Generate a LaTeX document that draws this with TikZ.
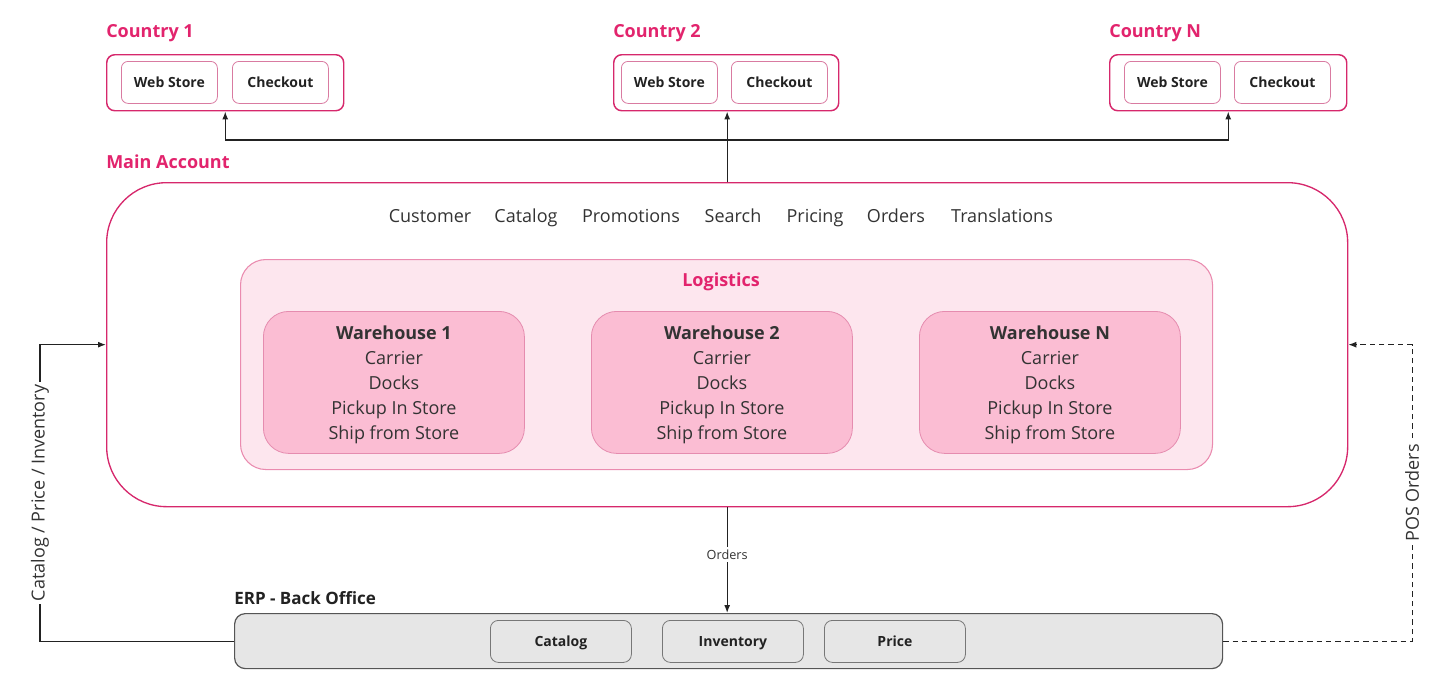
\documentclass[tikz,border=0pt]{standalone}
\usepackage{fontspec}
\setmainfont{Open Sans}
\usetikzlibrary{arrows.meta, positioning}
\usepackage{xcolor}
\definecolor{ink}     {HTML}{222222}
\definecolor{inkgray} {HTML}{333333}
\definecolor{magenta} {HTML}{E2246D}
\definecolor{magline} {HTML}{D6286C}
\definecolor{magsoft} {HTML}{D97BA1}
\definecolor{logfill} {HTML}{FDE6EE}
\definecolor{logline} {HTML}{EA8BAF}
\definecolor{whfill}  {HTML}{FBBDD3}
\definecolor{whline}  {HTML}{E58CAF}
\definecolor{erpfill} {HTML}{E6E6E6}
\definecolor{erpline} {HTML}{555555}
\tikzset{
  head/.style    = {font=\fontsize{13.5}{16}\selectfont\bfseries, text=magenta,
                    anchor=base west, inner sep=0pt},
  country/.style = {draw=magline, line width=1.1pt, rounded corners=6pt,
                    minimum height=42pt, anchor=north west, inner sep=0pt},
  app/.style     = {draw=magsoft, line width=0.6pt, rounded corners=5pt,
                    minimum width=72pt, minimum height=31.5pt,
                    text height=0.72em, text depth=0pt,
                    anchor=north west, inner sep=0pt,
                    font=\fontsize{10.5}{12}\selectfont\bfseries, text=ink},
  area/.style    = {draw=magline, line width=1pt, rounded corners=45pt,
                    minimum width=930.75pt, minimum height=243pt,
                    anchor=north west, inner sep=0pt},
  item/.style    = {font=\fontsize{13.5}{16}\selectfont, text=inkgray,
                    anchor=base},
  logis/.style   = {draw=logline, fill=logfill, line width=0.8pt,
                    rounded corners=19pt, minimum width=729pt,
                    minimum height=157.5pt, anchor=north west, inner sep=0pt},
  whouse/.style  = {draw=whline, fill=whfill, line width=0.6pt,
                    rounded corners=19pt, minimum width=195.75pt,
                    minimum height=106.5pt, anchor=north west, inner sep=0pt},
  whtext/.style  = {font=\fontsize{13.5}{18.75}\selectfont, text=inkgray,
                    align=center},
  erp/.style     = {draw=erpline, fill=erpfill, line width=0.9pt,
                    rounded corners=8pt, minimum width=741pt,
                    minimum height=41.25pt, anchor=north west, inner sep=0pt},
  module/.style  = {draw=erpline!80, fill=erpfill, line width=0.6pt,
                    rounded corners=6pt, minimum width=105.75pt,
                    minimum height=31.5pt, text height=0.72em, text depth=0pt,
                    anchor=north west, inner sep=0pt,
                    font=\fontsize{10.5}{12}\selectfont\bfseries, text=ink},
  arr/.style     = {-{Latex[length=6pt,width=4.5pt]}, line width=0.9pt, ink},
  darr/.style    = {arr, dash pattern=on 4pt off 3pt},
  lbl/.style     = {font=\fontsize{13.5}{16}\selectfont, text=inkgray,
                    fill=white, inner sep=2pt},
}

\begin{document}
\begin{tikzpicture}[x=0.75pt, y=-0.75pt]
  \useasboundingbox (0,0) rectangle (1441,693);

  % countries
  \node[head] (lc1) at (106,37) {Country 1};
  \node[country, minimum width=177.75pt] (c1) at (106,54) {};
  \node[app] (ws1) at (121,61) {Web Store};
  \node[app] (co1) at (232,61) {Checkout};

  \node[head] (lc2) at (613,37) {Country 2};
  \node[country, minimum width=168.75pt] (c2) at (613,54) {};
  \node[app] (ws2) at (621,61) {Web Store};
  \node[app] (co2) at (731,61) {Checkout};

  \node[head] (lcn) at (1109,37) {Country N};
  \node[country, minimum width=177.75pt] (cn) at (1109,54) {};
  \node[app] (wsn) at (1124,61) {Web Store};
  \node[app] (con) at (1234,61) {Checkout};

  % main account
  \node[head] (lmain) at (106,168) {Main Account};
  \node[area] (main) at (106,182) {};
  \foreach \name/\x in {Customer/430, Catalog/526, Promotions/631,
                        Search/733, Pricing/815, Orders/896,
                        Translations/1002}
    \node[item] (it-\name) at (\x,222) {\name};

  \node[logis] (logi) at (240,259) {};
  \node[font=\fontsize{13.5}{16}\selectfont\bfseries, text=magenta,
        anchor=base] (llogi) at (721,286) {Logistics};

  \foreach \n/\lab/\x in {1/1/263, 2/2/591, 3/N/919} {
    \node[whouse] (wh\n) at (\x,311) {};
    \node[whtext] at ([yshift=-1.5pt]wh\n.center) {\textbf{Warehouse \lab}\\
      Carrier\\Docks\\Pickup In Store\\Ship from Store};
  }

  % erp
  \node[font=\fontsize{12.75}{15}\selectfont\bfseries, text=ink,
        anchor=base west, inner sep=0pt] (lerp) at (234,604) {ERP - Back Office};
  \node[erp] (erp) at (234,613) {};
  \node[module] (mcat) at (490,620) {Catalog};
  \node[module] (minv) at (662,620) {Inventory};
  \node[module] (mpri) at (824,620) {Price};

  % connectors
  \draw[arr] (main.north) -- (main.north |- c2.south);
  \draw[arr] (main.north) -- ++(0,-42) -| (c1.south);
  \draw[arr] (main.north) -- ++(0,-42) -| (cn.south);
  \draw[arr] (main.south) -- node[lbl, pos=0.45,
    font=\fontsize{9.5}{11}\selectfont] {Orders} (main.south |- erp.north);
  \draw[arr] (erp.west) -- ++(-194,0) |- node[lbl, pos=0.25, rotate=90]
    {Catalog / Price / Inventory} (main.west);
  \draw[darr] (erp.east) -- ++(189,0) |- node[lbl, pos=0.25, rotate=90]
    {POS Orders} (main.east);
\end{tikzpicture}
\end{document}
